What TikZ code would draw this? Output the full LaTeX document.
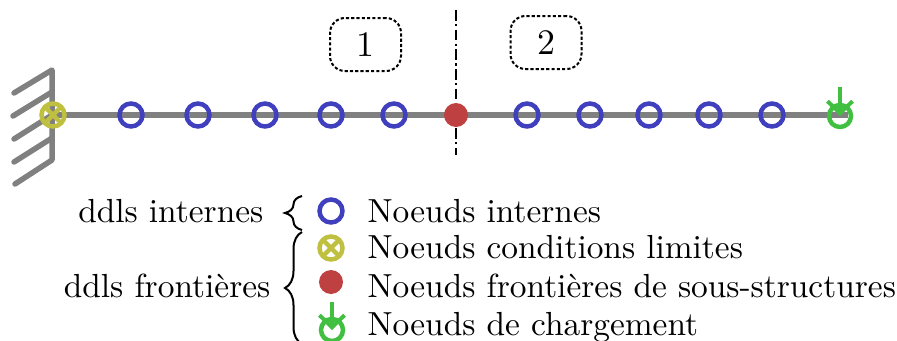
\documentclass[tikz,border=0pt]{standalone}
\usepackage{tikz}
\usetikzlibrary{arrows.meta,backgrounds,decorations.pathreplacing}
\definecolor{blueddl}{rgb}{.25,.25,.75}
\definecolor{yellowddl}{rgb}{.75,.75,.25}
\definecolor{redddl}{rgb}{.75,.25,.25}
\definecolor{greenddl}{rgb}{.25,.75,.25}
\tikzset{
  internalnode/.style={draw=blueddl,circle,line width=.045cm,minimum size=.23cm,inner sep=0},
  fixednode/.style={draw=yellowddl,circle,line width=.045cm,minimum size=.23cm,inner sep=0,
    path picture={\draw[yellowddl,line width=.045cm]
      (path picture bounding box.north west) -- (path picture bounding box.south east)
      (path picture bounding box.north east) -- (path picture bounding box.south west);}},
  interfacenode/.style={fill=redddl,circle,minimum size=.24cm,inner sep=0},
  loadednode/.style={draw=greenddl,circle,line width=.045cm,minimum size=.22cm,inner sep=0},
  loadarrow/.style={greenddl,line width=.045cm,-{Straight Barb[length=.12cm,width=.25cm,line width=.04cm]}},
  hatch/.style={gray,line width=.055cm,line cap=round,line join=round},
  domainbox/.style={draw,dash pattern=on .9pt off .6pt,line width=.02cm,rounded corners=.15cm,
    minimum width=.71cm,minimum height=.53cm,font=\fontsize{10.2}{12}\selectfont},
  legendtext/.style={anchor=base west,inner sep=0},
  ddltext/.style={anchor=base east,inner sep=0},
  ddlbrace/.style={decorate,decoration={brace,amplitude=.17cm},line width=.02cm}
}
\begin{document}
\begin{tikzpicture}[font=\fontsize{9.5}{11}\selectfont]
\useasboundingbox (0,0) rectangle (8.97,3.4);
\node[fixednode] (n0) at (.53,2.25) {};
\foreach \i/\x in {1/1.31,2/1.98,3/2.65,4/3.31,5/3.94,7/5.27,8/5.90,9/6.49,10/7.09,11/7.72}
  \node[internalnode] (n\i) at (\x,2.25) {};
\node[interfacenode] (n6) at (4.56,2.25) {};
\node[loadednode] (n12) at (8.40,2.24) {};
\coordinate (t12) at (8.40,2.53);
\draw[loadarrow] (t12) -- (n12.center);
\coordinate (beamend) at (8.48,2.25);
\coordinate (cuttop) at (4.56,3.30);
\coordinate (cutbot) at (4.56,1.85);
\begin{scope}[on background layer]
\draw[gray,line width=.065cm] (n0.center) -- (beamend);
\draw[line width=.015cm,dash pattern=on 3pt off 1pt on .6pt off 1pt] (cuttop) -- (cutbot);
% wall
\draw[hatch] (.14,2.47) -- (.52,2.70) -- (.52,1.80) -- (.15,1.56);
\draw[hatch] (.52,2.48) -- (.13,2.24);
\draw[hatch] (.52,2.25) -- (.14,2.01);
\draw[hatch] (.52,2.02) -- (.14,1.78);
\end{scope}
\node[domainbox] (d1) at (3.655,2.955) {1};
\node[domainbox] (d2) at (5.46,2.975) {2};
% legend
\node[internalnode] (l1) at (3.31,1.29) {};
\node[fixednode] (l2) at (3.31,.92) {};
\node[interfacenode] (l3) at (3.31,.58) {};
\node[loadednode] (l4) at (3.32,.10) {};
\coordinate (t4) at (3.32,.38);
\draw[loadarrow] (t4) -- (l4.center);
\node[legendtext] (t1) at (3.67,1.18) {Noeuds internes};
\node[legendtext] (t2) at (3.67,.82) {Noeuds conditions limites};
\node[legendtext] (t3) at (3.67,.43) {Noeuds frontières de sous-structures};
\node[legendtext] (t5) at (3.67,.05) {Noeuds de chargement};
\coordinate (b1s) at (3.02,1.10);
\coordinate (b1e) at (3.02,1.44);
\coordinate (b2s) at (3.02,-.04);
\coordinate (b2e) at (3.02,1.08);
\draw[ddlbrace] (b1s) -- (b1e);
\draw[ddlbrace] (b2s) -- (b2e);
\node[ddltext] (g1) at (2.64,1.18) {ddls internes};
\node[ddltext] (g2) at (2.71,.43) {ddls frontières};
\end{tikzpicture}
\end{document}
